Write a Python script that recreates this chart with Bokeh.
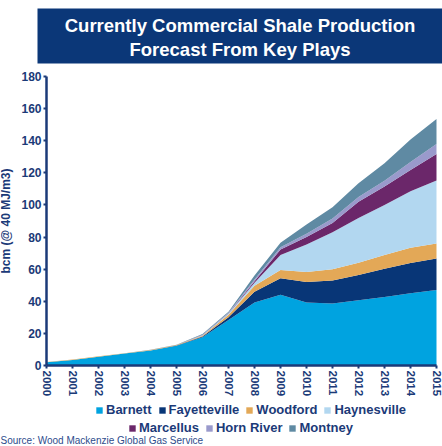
from bokeh.plotting import figure
from bokeh.models import (ColumnDataSource, Range1d, FixedTicker, Legend, LegendItem,
                          Label, BoxAnnotation)
from bokeh.embed import file_html
from bokeh.resources import INLINE

years = [2000, 2001, 2002, 2003, 2004, 2005, 2006, 2007, 2008, 2009, 2010, 2011, 2012, 2013, 2014, 2015]
barnett = [2.0, 3.4, 5.4, 7.4, 9.4, 12.3, 17.6, 28.3, 39.3, 44.0, 39.3, 38.6, 40.7, 42.6, 45.0, 47.1]
fayetteville = [0.0, 0.0, 0.0, 0.0, 0.0, 0.1, 0.4, 1.7, 6.6, 10.3, 12.7, 14.4, 15.7, 17.7, 18.8, 19.6]
woodford = [0.2, 0.3, 0.3, 0.3, 0.3, 0.4, 0.6, 1.6, 3.7, 5.2, 6.3, 7.0, 7.6, 8.5, 9.6, 9.3]
haynesville = [0.0, 0.0, 0.0, 0.0, 0.0, 0.0, 0.3, 0.6, 1.9, 9.3, 17.1, 23.0, 27.9, 31.2, 35.1, 39.2]
marcellus = [0.0, 0.0, 0.0, 0.0, 0.0, 0.0, 0.1, 0.2, 1.0, 3.5, 4.6, 5.8, 10.1, 11.5, 13.2, 16.5]
horn_river = [0.0, 0.0, 0.0, 0.0, 0.0, 0.0, 0.2, 0.4, 1.0, 1.4, 2.0, 2.7, 3.0, 3.5, 5.0, 6.2]
montney = [0.0, 0.0, 0.0, 0.0, 0.1, 0.2, 0.4, 0.7, 2.5, 2.7, 5.8, 7.0, 8.5, 11.0, 14.0, 15.7]

series_names = ["Barnett", "Fayetteville", "Woodford", "Haynesville", "Marcellus", "Horn River", "Montney"]
series_values = [barnett, fayetteville, woodford, haynesville, marcellus, horn_river, montney]
colors = ["#00A3E0", "#083677", "#E3A857", "#B2D7F0", "#6B276A", "#9A9ACC", "#5F8AA3"]
y_ticks = [0, 20, 40, 60, 80, 100, 120, 140, 160, 180]

title_line1 = "Currently Commercial Shale Production"
title_line2 = "Forecast From Key Plays"
y_label = "bcm (@ 40 MJ/m3)"
source_text = "Source: Wood Mackenzie Global Gas Service"

NAVY = "#1B3A78"
BANNER = "#0B3778"
FONT = "Liberation Sans"

W, H = 442, 446
# pixel geometry of the plotting area inside the canvas
PX_LEFT, PX_RIGHT = 46, 436     # x of first / last year
PX_TOP, PX_ZERO = 76, 365       # y of 180 and 0
X0, X1 = years[0], years[-1]
Y0, Y1 = y_ticks[0], y_ticks[-1]
sx = (PX_RIGHT - PX_LEFT) / (X1 - X0)
sy = (PX_ZERO - PX_TOP) / (Y1 - Y0)
x_range = Range1d(X0 - PX_LEFT / sx, X1 + (W - PX_RIGHT) / sx)
y_range = Range1d(Y0 - (H - PX_ZERO) / sy, Y1 + PX_TOP / sy)

data = {"year": years}
keys = []
for name, vals in zip(series_names, series_values):
    k = name.replace(" ", "_")
    data[k] = vals
    keys.append(k)
src = ColumnDataSource(data)

p = figure(width=W, height=H, x_range=x_range, y_range=y_range,
           output_backend="svg", toolbar_location=None,
           min_border_left=0, min_border_right=0, min_border_top=0, min_border_bottom=0)
p.outline_line_color = None
p.grid.visible = False

rends = p.varea_stack(stackers=keys, x="year", source=src, color=colors)

p.xaxis.fixed_location = 0
p.yaxis.fixed_location = X0
p.xaxis.bounds = (X0, X1)
p.yaxis.bounds = (Y0, Y1)
p.xaxis.ticker = FixedTicker(ticks=years)
p.yaxis.ticker = FixedTicker(ticks=y_ticks)
p.xaxis.major_label_orientation = "vertical"
for ax in (p.xaxis[0], p.yaxis[0]):
    ax.axis_line_color = NAVY
    ax.axis_line_width = 2.5
    ax.major_tick_line_color = NAVY
    ax.major_tick_line_width = 2
    ax.major_tick_out = 3
    ax.major_tick_in = 0
    ax.minor_tick_line_color = None
    ax.major_label_text_color = NAVY
    ax.major_label_text_font = FONT
    ax.major_label_text_font_style = "bold"
    ax.major_label_text_font_size = "12px"
    ax.major_label_standoff = 2
p.xaxis.major_label_text_font_size = "11.5px"
p.yaxis.axis_label = y_label
p.yaxis.axis_label_text_color = NAVY
p.yaxis.axis_label_text_font = FONT
p.yaxis.axis_label_text_font_style = "bold"
p.yaxis.axis_label_text_font_size = "12px"
p.yaxis.axis_label_standoff = 5

# title banner (screen units, y measured upward from the bottom)
p.add_layout(BoxAnnotation(left=37, right=W, top=H - 8, bottom=H - 63,
                           left_units="screen", right_units="screen",
                           top_units="screen", bottom_units="screen",
                           fill_color=BANNER, fill_alpha=1, line_color=None, level="overlay"))
for txt, ypx in ((title_line1, 25), (title_line2, 49)):
    p.add_layout(Label(x=239.5, y=H - ypx, x_units="screen", y_units="screen", text=txt,
                       text_align="center", text_baseline="middle", text_color="white",
                       text_font=FONT, text_font_style="bold", text_font_size="18.5px",
                       level="overlay"))

items = [LegendItem(label=n, renderers=[r]) for n, r in zip(series_names, rends)]

def make_legend(its, loc):
    return Legend(items=its, orientation="horizontal", location=loc,
                  border_line_color=None, background_fill_alpha=0,
                  padding=0, margin=0, spacing=6, label_standoff=3,
                  glyph_width=8, glyph_height=8, label_height=14,
                  label_text_font=FONT, label_text_font_style="bold",
                  label_text_font_size="13px", label_text_color=NAVY)

p.add_layout(make_legend(items[:4], (95, H - 417)))
p.add_layout(make_legend(items[4:], (128, H - 435)))
p.add_layout(Label(x=0, y=H - 445, x_units="screen", y_units="screen", text=source_text,
                   text_align="left", text_baseline="bottom", text_color="#2E4C8C",
                   text_font=FONT, text_font_size="10px"))

open("out.html", "w").write(file_html(p, INLINE))
